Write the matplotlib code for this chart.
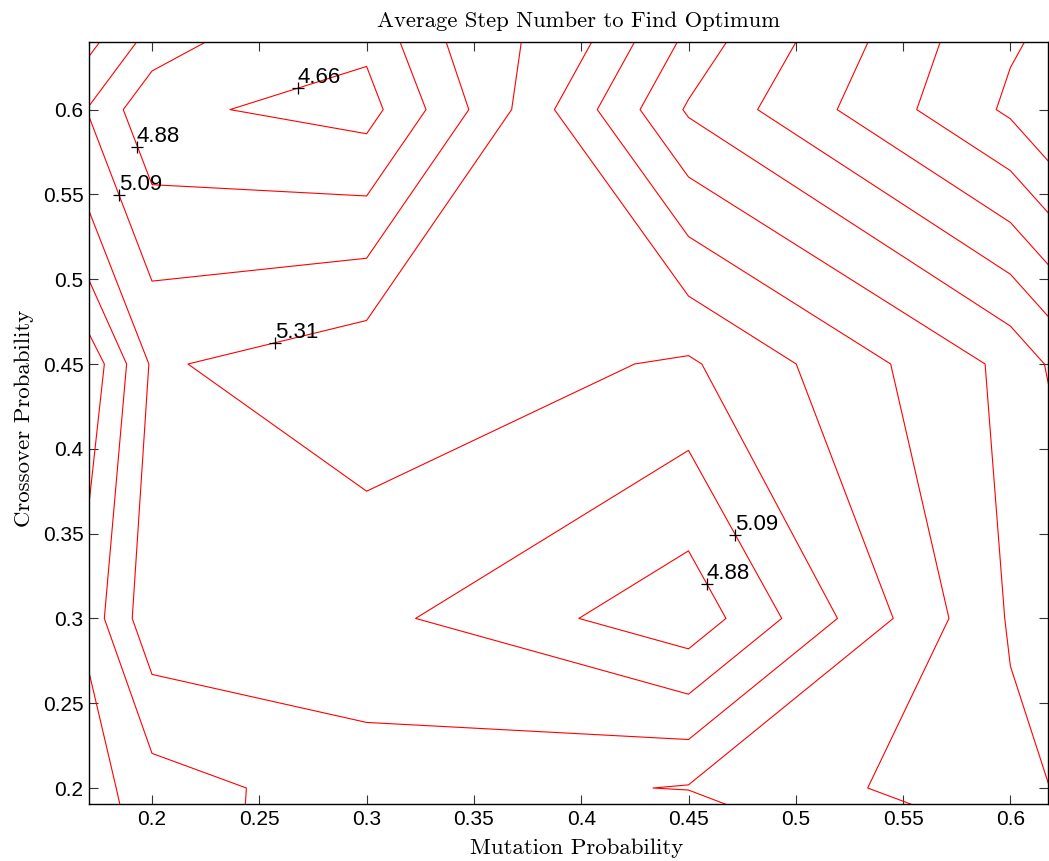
import numpy as np
import matplotlib
matplotlib.use("Agg")
import matplotlib.pyplot as plt

# parameter grid of the GA runs
mutation_prob = [0.10, 0.20, 0.30, 0.45, 0.60, 0.75]
crossover_prob = [0.10, 0.20, 0.30, 0.45, 0.60, 0.75]

# average number of steps to reach the optimum, one row per crossover value
avg_steps = [
    [6.392, 5.751, 5.173, 4.292, 5.392, 6.067],   # crossover 0.10
    [6.349, 5.621, 5.405, 5.541, 5.903, 6.360],   # crossover 0.20
    [6.821, 5.156, 5.158, 4.731, 5.981, 6.717],   # crossover 0.30
    [7.366, 5.279, 5.461, 5.279, 6.017, 7.518],   # crossover 0.45
    [5.966, 4.708, 4.576, 6.204, 7.080, 7.799],   # crossover 0.60
    [6.392, 5.818, 5.071, 5.494, 6.847, 7.381],   # crossover 0.75
]

# contour levels (evenly spaced)
level_base = 4.66
level_step = 0.2165
levels = level_base + level_step * np.arange(-3, 16)

# labelled contours: (level index above base, mutation, crossover)
labels = [
    (0, 0.268, 0.613),
    (1, 0.193, 0.578),
    (2, 0.1845, 0.5498),
    (3, 0.2573, 0.4622),
    (2, 0.4717, 0.3492),
    (1, 0.4586, 0.3201),
]

plt.rcParams["font.family"] = ["Liberation Sans", "DejaVu Sans"]

fig = plt.figure(figsize=(10.49, 8.61), dpi=100)
ax = fig.add_axes([89 / 1049, 57 / 861, 959 / 1049, 762 / 861])

X, Y = np.meshgrid(mutation_prob, crossover_prob)
Z = np.array(avg_steps)
ax.contour(X, Y, Z, levels=levels, colors="#ff0000", linewidths=0.8)

for k, mx, cy in labels:
    lev = level_base + level_step * k
    ax.plot(mx, cy, marker="+", color="black", ms=9, mew=0.9)
    ax.text(mx, cy, f"{lev:.2f}", ha="left", va="bottom", fontsize=16)

ax.set_xlim(0.17064, 0.61752)
ax.set_ylim(0.19057, 0.63986)
ax.set_xticks(np.arange(0.2, 0.601, 0.05))
ax.set_yticks(np.arange(0.2, 0.601, 0.05))
ax.set_xticklabels(["0.2", "0.25", "0.3", "0.35", "0.4", "0.45", "0.5", "0.55", "0.6"])
ax.set_yticklabels(["0.2", "0.25", "0.3", "0.35", "0.4", "0.45", "0.5", "0.55", "0.6"])
ax.tick_params(direction="in", top=True, right=True, length=6.5, width=0.8,
               color="#333333", labelsize=15, pad=4)
for sp in ax.spines.values():
    sp.set_linewidth(1.0)

ax.set_title("Average Step Number to Find Optimum", fontfamily="cmr10",
             fontsize=16.3, pad=11, x=0.51)
ax.set_xlabel("Mutation Probability", fontfamily="cmr10", fontsize=16.5, labelpad=6)
ax.set_ylabel("Crossover Probability", fontfamily="cmr10", fontsize=16.5, labelpad=6)
ax.xaxis.set_label_coords(0.508, -0.045)
ax.yaxis.label.set_y(0.506)

fig.savefig("out.png", dpi=100)
